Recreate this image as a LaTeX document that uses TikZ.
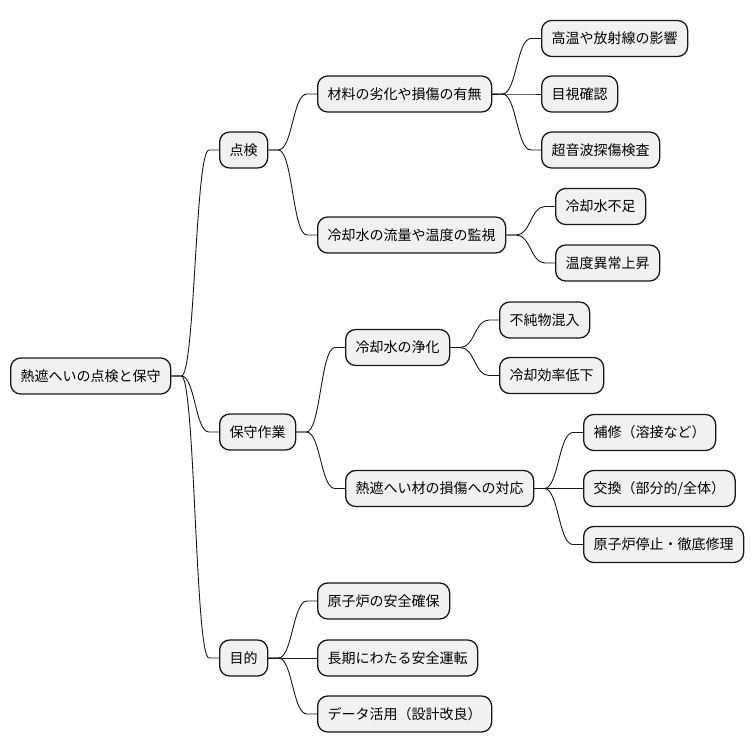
\documentclass[tikz,border=0pt]{standalone}
\usepackage{fontspec}
\newfontfamily\jpfont{Noto Sans CJK JP}
\usetikzlibrary{calc}
\definecolor{boxfill}{HTML}{F1F1F1}
\definecolor{boxline}{HTML}{181818}
\tikzset{
  topic/.style={draw=boxline, line width=1.3pt, fill=boxfill, rounded corners=10pt,
    minimum height=36pt, inner xsep=10pt, anchor=west,
    font=\jpfont\fontsize{14}{16}\selectfont},
  link/.style={draw=boxline, line width=0.9pt}
}
\newcommand{\branch}[2]{%
  \path (#1.east) ++(10,0) coordinate (s) (#2.west) ++(-10,0) coordinate (t);
  \path ($(s)!0.5!(t)$) coordinate (m);
  \draw[link] (#1.east) -- (s) .. controls (m |- s) and (m |- t) .. (t) -- (#2.west);
}
\begin{document}
\begin{tikzpicture}[x=1pt,y=-1pt]
\useasboundingbox (0,0) rectangle (754,752);

% root
\node[topic] (root) at (10,376) {熱遮へいの点検と保守};

% first level
\node[topic] (insp) at (219,150) {点検};
\node[topic] (maint) at (219,432) {保守作業};
\node[topic] (purp) at (219,658) {目的};

% inspection
\node[topic] (mat) at (317,94) {材料の劣化や損傷の有無};
\node[topic] (cool) at (317,235) {冷却水の流量や温度の監視};
\node[topic] (heat) at (541,38.5) {高温や放射線の影響};
\node[topic] (visual) at (541,94) {目視確認};
\node[topic] (ultra) at (541,150) {超音波探傷検査};
\node[topic] (lack) at (555,206.5) {冷却水不足};
\node[topic] (overheat) at (555,263) {温度異常上昇};

% maintenance
\node[topic] (purify) at (345,347.5) {冷却水の浄化};
\node[topic] (damage) at (345,488.5) {熱遮へい材の損傷への対応};
\node[topic] (impur) at (499,320) {不純物混入};
\node[topic] (effic) at (499,375.5) {冷却効率低下};
\node[topic] (repair) at (583,432.5) {補修（溶接など）};
\node[topic] (replace) at (583,488.5) {交換（部分的/全体）};
\node[topic] (stop) at (583,544.5) {原子炉停止・徹底修理};

% purpose
\node[topic] (safety) at (317,601) {原子炉の安全確保};
\node[topic] (longrun) at (317,658) {長期にわたる安全運転};
\node[topic] (data) at (317,714) {データ活用（設計改良）};

\branch{root}{insp}
\branch{root}{maint}
\branch{root}{purp}
\branch{insp}{mat}
\branch{insp}{cool}
\branch{mat}{heat}
\branch{mat}{visual}
\branch{mat}{ultra}
\branch{cool}{lack}
\branch{cool}{overheat}
\branch{maint}{purify}
\branch{maint}{damage}
\branch{purify}{impur}
\branch{purify}{effic}
\branch{damage}{repair}
\branch{damage}{replace}
\branch{damage}{stop}
\branch{purp}{safety}
\branch{purp}{longrun}
\branch{purp}{data}
\end{tikzpicture}
\end{document}
